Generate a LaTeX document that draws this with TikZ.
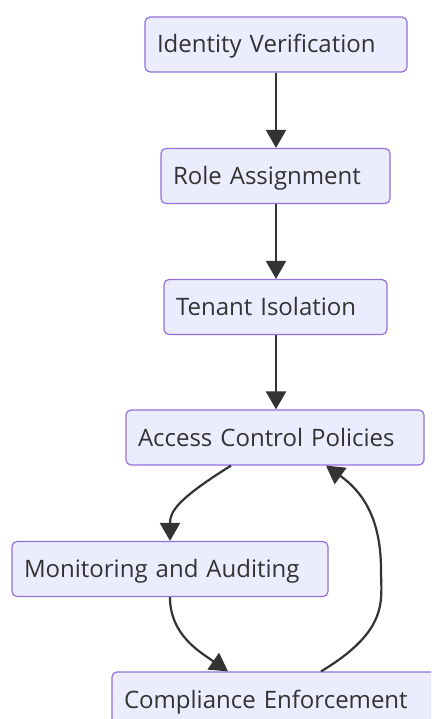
\documentclass[tikz,border=0pt]{standalone}
\usepackage{fontspec}
\setmainfont{Open Sans}
\usetikzlibrary{arrows.meta}
\definecolor{boxfill}{HTML}{ECECFF}
\definecolor{boxline}{HTML}{9370DB}
\definecolor{inkgray}{HTML}{333333}
\begin{document}
\begin{tikzpicture}[x=1pt, y=-1pt,
    stage/.style={draw=boxline, fill=boxfill, line width=1.2pt, rounded corners=5pt,
        minimum height=55pt, inner xsep=12pt, inner ysep=0pt, text height=20pt, text depth=3pt,
        align=left, text=inkgray, font=\fontsize{24}{28}\selectfont},
    flow/.style={draw=inkgray, line width=2.2pt, -{Triangle[length=18pt, width=20pt]}}]
    \useasboundingbox (0,0) rectangle (431,719);
    \clip (0,0) rectangle (431,719);

    \node[stage, text width=238pt] (idv) at (276, 44.5) {Identity Verification};
    \node[stage, text width=205pt] (role) at (275.5, 176) {Role Assignment};
    \node[stage, text width=199pt] (tenant) at (275.5, 307) {Tenant Isolation};
    \node[stage, text width=274pt] (acp) at (275, 437.5) {Access Control Policies};
    \node[stage, text width=292pt] (mon) at (170, 569) {Monitoring and Auditing};
    \node[stage, text width=306pt] (comp) at (277, 699.5) {Compliance Enforcement};

    \draw[flow] (idv.south -| 276,0) -- (role.north -| 276,0);
    \draw[flow] (role.south -| 276,0) -- (tenant.north -| 276,0);
    \draw[flow] (tenant.south -| 276,0) -- (acp.north -| 276,0);
    \draw[flow] (acp.south -| 231,0) .. controls (176,500) and (170,512) .. (mon.north -| 170,0);
    \draw[flow] (mon.south -| 170,0) .. controls (170,635) and (200,652) .. (comp.north -| 228,0);
    \draw[flow] (comp.north -| 321,0) .. controls (390,630) and (381,600) .. (381,570)
        .. controls (381,515) and (360,490) .. (acp.south -| 326,0);
\end{tikzpicture}
\end{document}
